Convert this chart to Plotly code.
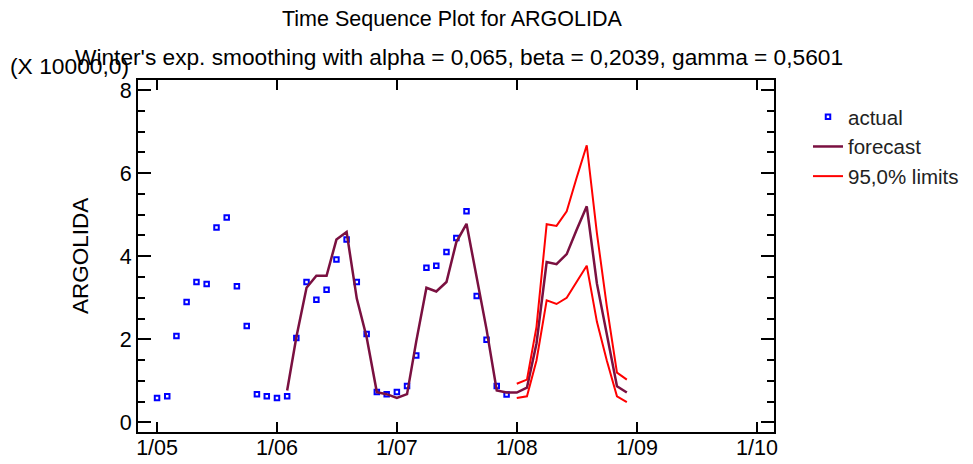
import plotly.graph_objects as go
import pandas as pd

# ---- data (units of 10000) ----
actual_dates = pd.date_range("2005-01-01", periods=36, freq="MS").strftime("%Y-%m-%d").tolist()
actual_values = [0.59, 0.63, 2.08, 2.90, 3.38, 3.33, 4.69, 4.93, 3.28, 2.32, 0.68, 0.63,
                 0.59, 0.63, 2.03, 3.38, 2.95, 3.19, 3.92, 4.40, 3.38, 2.13, 0.73, 0.68,
                 0.73, 0.875, 1.61, 3.72, 3.77, 4.10, 4.44, 5.08, 3.04, 1.99, 0.875, 0.67]

forecast_dates = pd.date_range("2006-02-01", periods=35, freq="MS").strftime("%Y-%m-%d").tolist()
forecast_values = [0.77, 2.05, 3.24, 3.53, 3.53, 4.40, 4.58, 2.98, 2.05, 0.73, 0.68,
                   0.59, 0.68, 1.95, 3.24, 3.15, 3.38, 4.34, 4.78, 3.52, 2.24, 0.77, 0.72,
                   0.72, 0.84, 1.90, 3.86, 3.81, 4.05, 4.63, 5.20, 3.34, 2.14, 0.87, 0.72]

limit_dates = pd.date_range("2008-01-01", periods=12, freq="MS").strftime("%Y-%m-%d").tolist()
upper_values = [0.93, 1.03, 2.30, 4.77, 4.73, 5.08, 5.88, 6.67, 4.55, 2.80, 1.20, 1.03]
lower_values = [0.59, 0.63, 1.49, 2.94, 2.85, 3.00, 3.38, 3.77, 2.42, 1.49, 0.63, 0.49]

tick_dates = ["2005-01-01", "2006-01-01", "2007-01-01", "2008-01-01", "2009-01-01", "2010-01-01"]
tick_labels = ["1/05", "1/06", "1/07", "1/08", "1/09", "1/10"]
y_ticks = [0, 2, 4, 6, 8]

FONT = "Liberation Sans, Arial, sans-serif"
W, H = 973, 464
# plot area in page pixels
PL, PR, PT, PB = 138, 774, 80, 432
L, T, R, B = PL, PT, W - PR, H - PB
PW, PH = PR - PL, PB - PT


def px2paper_x(px):
    return (px - PL) / PW


def px2paper_y(py):
    return (PB - py) / PH


fig = go.Figure()
fig.add_trace(go.Scatter(
    x=actual_dates, y=actual_values, mode="markers", name="actual",
    marker=dict(symbol="square-open", size=4.5, color="#0000FF", line=dict(width=2, color="#0000FF")),
    legendgroup="a"))
fig.add_trace(go.Scatter(
    x=forecast_dates, y=forecast_values, mode="lines", name="forecast",
    line=dict(color="#7A1040", width=2.5), legendgroup="f"))
fig.add_trace(go.Scatter(
    x=limit_dates, y=upper_values, mode="lines", name="95,0% limits",
    line=dict(color="#FF0000", width=2), legendgroup="l"))
fig.add_trace(go.Scatter(
    x=limit_dates, y=lower_values, mode="lines", name="95,0% limits",
    line=dict(color="#FF0000", width=2), legendgroup="l", showlegend=False))

annotations = [
    dict(text="Time Sequence Plot for ARGOLIDA", x=px2paper_x(452), y=px2paper_y(19),
         xref="paper", yref="paper", showarrow=False, xanchor="center", yanchor="middle",
         font=dict(size=21.5, color="black", family=FONT)),
    dict(text="Winter's exp. smoothing with alpha = 0,065, beta = 0,2039, gamma = 0,5601",
         x=px2paper_x(73), y=px2paper_y(57),
         xref="paper", yref="paper", showarrow=False, xanchor="left", yanchor="middle",
         font=dict(size=22.7, color="black", family=FONT)),
    dict(text="(X 10000,0)", x=px2paper_x(8), y=px2paper_y(66),
         xref="paper", yref="paper", showarrow=False, xanchor="left", yanchor="middle",
         font=dict(size=22.8, color="black", family=FONT)),
    dict(text="ARGOLIDA", x=px2paper_x(80), y=px2paper_y(256), textangle=-90,
         xref="paper", yref="paper", showarrow=False, xanchor="center", yanchor="middle",
         font=dict(size=22.5, color="black", family=FONT)),
]

fig.update_layout(
    width=W, height=H,
    margin=dict(l=L, r=R, t=T, b=B, pad=0, autoexpand=False),
    paper_bgcolor="white", plot_bgcolor="white",
    font=dict(family=FONT, size=21, color="black"),
    showlegend=True,
    legend=dict(x=px2paper_x(808), y=px2paper_y(97), xanchor="left", yanchor="top",
                bgcolor="rgba(0,0,0,0)", font=dict(size=20.5, color="#222222", family=FONT),
                tracegroupgap=0, itemwidth=30),
    annotations=annotations,
)

fig.update_xaxes(
    type="date", range=["2004-11-04", "2010-02-22"], automargin=False,
    tickmode="array", tickvals=tick_dates, ticktext=tick_labels,
    ticks="inside", ticklen=10, tickwidth=2, tickcolor="black",
    showline=True, linecolor="black", linewidth=2, mirror="ticks",
    showgrid=False, zeroline=False, tickfont=dict(size=21.5, family=FONT, color="black"),
    ticklabelstandoff=-5,
)
fig.update_yaxes(
    range=[-0.23, 8.24], automargin=False,
    tickmode="array", tickvals=y_ticks,
    ticks="inside", ticklen=13, tickwidth=2, tickcolor="black",
    minor=dict(tickmode="array", tickvals=[0.5, 1, 1.5, 2.5, 3, 3.5, 4.5, 5, 5.5, 6.5, 7, 7.5],
               ticks="inside", ticklen=7, tickwidth=2, tickcolor="black"),
    showline=True, linecolor="black", linewidth=2, mirror="ticks",
    showgrid=False, zeroline=False, tickfont=dict(size=21.5, family=FONT, color="black"),
)

fig.write_html("out.html", config={"displayModeBar": False},
               post_script="document.body.style.margin='0';document.body.style.overflow='hidden';")
